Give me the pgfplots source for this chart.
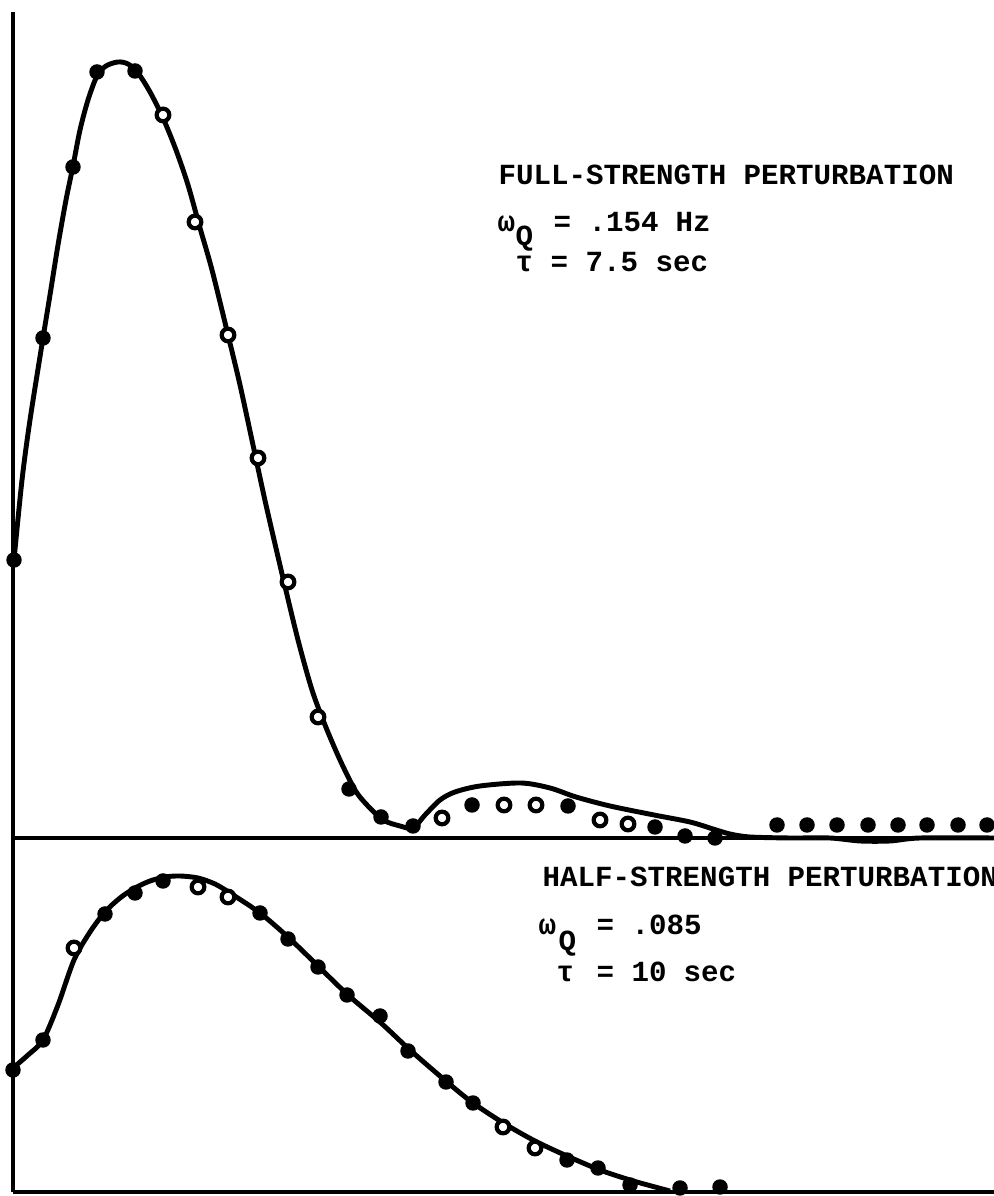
\documentclass[border=0pt]{standalone}
\usepackage{fontspec}
\usepackage{pgfplots}
\pgfplotsset{compat=1.18}
\newfontfamily\tw{Liberation Mono}

% coordinates are in image pixels: x to the right, y measured up from the bottom
\pgfplotstableread{
x y
14 636
22 716
30 776
43 858
50 901
58 951
66 996
73 1030
80 1066
88 1096
97 1120
106 1130
118 1134
128 1132
138 1123
150 1104
163 1078
176 1046
188 1011
200 968
212 926
228 861
240 811
253 751
266 691
283 618
298 556
312 506
325 471
340 436
355 406
367 391
383 376
400 370
413 368
425 381
440 396
455 404
480 410
521 413
550 408
576 399
610 390
654 381
690 374
713 367
730 362
750 359
790 358
830 358
860 355
890 355
920 358
994 358
}\fullfit

\pgfplotstableread{
x y
14 636
43 858
73 1029
97 1124
135 1125
349 407
381 379
413 370
472 391
568 390
655 369
685 360
715 358
777 371
807 371
837 371
868 371
898 371
927 371
958 371
987 371
}\fullfilled

\pgfplotstableread{
x y
163 1081
195 974
228 861
258 738
288 614
318 479
442 378
504 391
536 391
600 376
628 372
}\fullopen

\pgfplotstableread{
x y
13 128
28 141
43 156
58 191
74 236
90 264
105 284
120 298
135 308
150 315
165 319
180 320
198 318
215 312
230 303
260 283
289 258
318 230
348 201
381 173
410 146
447 114
473 93
505 72
535 55
567 40
600 26
630 16
655 9
670 5
}\halffit

\pgfplotstableread{
x y
13 126
43 156
105 282
135 303
163 315
260 283
288 257
318 229
347 201
380 180
408 145
446 114
473 93
567 36
598 28
630 11
680 8
720 9
}\halffilled

\pgfplotstableread{
x y
74 248
198 309
228 299
503 69
535 48
}\halfopen

\begin{document}
\begin{tikzpicture}
\useasboundingbox (0,0) rectangle (9.94cm,11.96cm);
\clip (0,0) rectangle (9.94cm,11.96cm);
\begin{axis}[
  at={(0,0)}, anchor=south west,
  scale only axis, width=9.94cm, height=11.96cm,
  xmin=0, xmax=994, ymin=0, ymax=1196,
  hide axis, clip=false
]
% frame lines: left axis, top-panel baseline, bottom axis
\addplot[black, line width=0.9pt] coordinates {(13,1184) (13,4)};
\addplot[black, line width=0.9pt] coordinates {(13,358) (994,358)};
\addplot[black, line width=0.9pt] coordinates {(13,4) (994,4)};

% fitted curves
\addplot[black, line width=1.4pt, smooth, tension=0.5] table {\fullfit};
\addplot[black, line width=1.4pt, smooth, tension=0.5] table {\halffit};

% measured points
\addplot[only marks, mark=*, mark size=2pt, black] table {\fullfilled};
\addplot[only marks, mark=*, mark size=1.8pt, black, mark options={fill=white, line width=1.2pt}] table {\fullopen};
\addplot[only marks, mark=*, mark size=2pt, black] table {\halffilled};
\addplot[only marks, mark=*, mark size=1.8pt, black, mark options={fill=white, line width=1.2pt}] table {\halfopen};

% annotations, one node per typed word
\begin{scope}[every node/.style={anchor=base west, inner sep=0pt, font=\tw\bfseries\fontsize{8.3}{10}\selectfont}]
\node at (498,1011) {FULL-STRENGTH};
\node at (743,1011) {PERTURBATION};
\node at (497,964) {ω};
\node at (515,950) {Q};
\node at (553,964) {=};
\node at (588,964) {.154};
\node at (675,964) {Hz};
\node at (515,924) {τ};
\node at (550,924) {=};
\node at (585,924) {7.5};
\node at (655,924) {sec};
\node at (542,309) {HALF-STRENGTH};
\node at (787,309) {PERTURBATION};
\node at (538,261) {ω};
\node at (558,245) {Q};
\node at (596,261) {=};
\node at (631,261) {.085};
\node at (556,214) {τ};
\node at (596,214) {=};
\node at (631,214) {10};
\node at (683,214) {sec};
\end{scope}
\end{axis}
\end{tikzpicture}
\end{document}
